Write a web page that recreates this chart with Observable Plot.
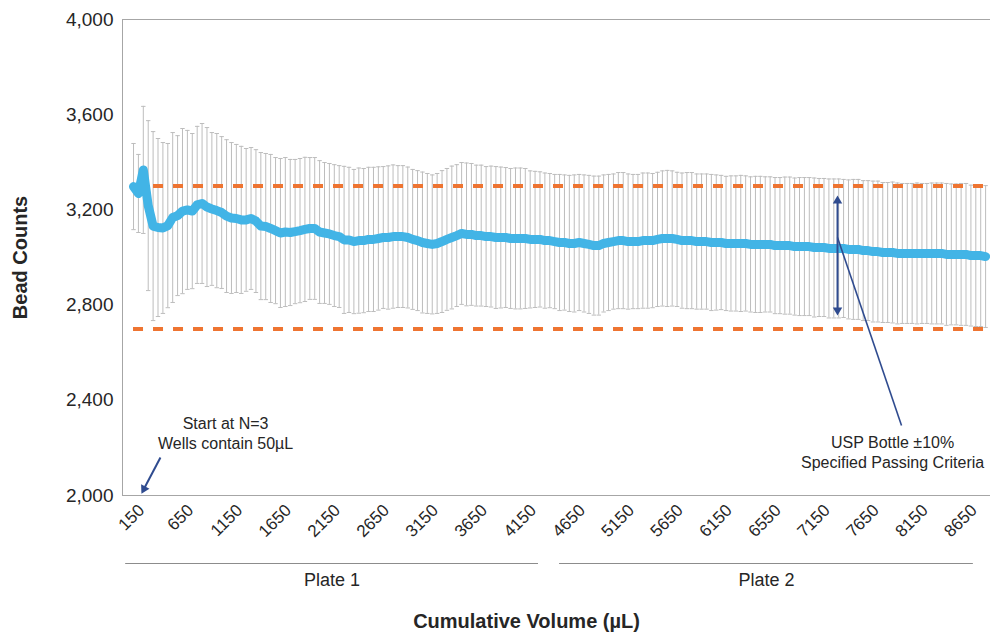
<!DOCTYPE html>
<html><head><meta charset="utf-8">
<script src="https://cdn.jsdelivr.net/npm/d3@7"></script>
<script src="https://cdn.jsdelivr.net/npm/@observablehq/plot@0.6"></script>
<style>
html,body{margin:0;padding:0;background:#fff;}
#chart{width:990px;height:633px;overflow:hidden;}
</style></head><body><div id="chart"></div>
<script>
// Cumulative volume tick labels (every 10th well)
const volumeLabels = ["150","650","1150","1650","2150","2650","3150","3650","4150","4650","5150","5650","6150","6550","7150","7650","8150","8650"];

// Mean bead counts per well
const meanCounts = [
  3298,3269,3368,3218,3132,3126,3124,3134,3168,3176,
  3195,3200,3195,3221,3227,3212,3204,3197,3189,3174,
  3166,3164,3158,3158,3164,3153,3132,3130,3122,3113,
  3103,3107,3105,3109,3113,3118,3122,3122,3107,3103,
  3099,3092,3088,3074,3074,3067,3071,3071,3076,3076,
  3080,3084,3084,3088,3088,3088,3084,3076,3071,3063,
  3059,3055,3059,3067,3076,3084,3092,3101,3097,3097,
  3092,3092,3088,3088,3084,3084,3084,3080,3080,3080,
  3080,3076,3076,3076,3071,3071,3067,3063,3063,3059,
  3059,3063,3059,3055,3050,3050,3059,3063,3067,3071,
  3071,3067,3067,3067,3071,3071,3071,3076,3080,3080,
  3080,3076,3071,3071,3071,3067,3067,3067,3063,3063,
  3063,3059,3059,3059,3059,3059,3055,3055,3055,3055,
  3055,3050,3050,3050,3050,3046,3046,3046,3046,3042,
  3042,3042,3038,3038,3038,3038,3034,3034,3034,3029,
  3029,3025,3025,3021,3021,3021,3017,3017,3017,3017,
  3017,3017,3017,3017,3017,3017,3013,3013,3013,3013,
  3013,3008,3008,3008,3004
];

// Standard deviation (error bar half-length) per well
const sdCounts = [
  181,164,267,357,397,374,359,345,357,336,
  347,334,326,330,336,334,321,324,319,321,
  317,311,309,300,298,300,309,307,311,307,
  313,313,307,303,303,303,298,298,300,296,
  296,298,298,309,305,303,305,303,303,303,
  301,298,301,301,298,298,296,294,294,296,
  294,292,294,298,298,300,298,298,300,298,
  296,296,294,296,298,296,294,294,296,296,
  294,288,286,284,284,282,282,286,284,286,
  288,286,288,290,292,292,288,286,284,286,
  286,284,282,282,284,284,282,282,284,286,
  284,282,284,286,286,284,284,284,286,284,
  282,282,284,284,286,284,284,286,286,284,
  284,286,286,288,288,288,290,290,290,292,
  290,290,292,292,292,290,292,294,294,294,
  294,296,296,294,294,296,296,294,294,294,
  296,294,294,296,296,296,298,296,296,298,
  298,296,298,298,298
];

const passLimits = [3300, 2700];          // USP bottle ±10%
const yTicks = [2000, 2400, 2800, 3200, 3600, 4000];
const plates = [
  {name: "Plate 1", from: -1.6, to: 82.7},
  {name: "Plate 2", from: 87.0, to: 171.5}
];
const notes = [
  {text: "Start at N=3\nWells contain 50µL", i: 18.8, v: 2263},
  {text: "USP Bottle ±10%\nSpecified Passing Criteria", i: 155.0, v: 2183}
];

const rows = meanCounts.map((m, i) => ({i, mean: m, lo: m - sdCounts[i], hi: m + sdCounts[i]}));
const tickIdx = volumeLabels.map((_, k) => k * 10);
const lastIdx = rows.length - 1;

const font = "'Liberation Sans', Arial, Helvetica, sans-serif";
const navy = "#2F4B8F";

const chart = Plot.plot({
  width: 990, height: 633,
  marginLeft: 122, marginRight: 0, marginTop: 19, marginBottom: 138,
  style: {fontFamily: font, color: "#262626", background: "#fff", overflow: "visible"},
  x: {type: "linear", domain: [-2.25, 175.0], axis: null},
  y: {domain: [2000, 4000], axis: null},
  marks: [
    // frame (top, bottom, left)
    Plot.ruleY([4000, 2000], {stroke: "#A6A6A6", strokeWidth: 1}),
    Plot.ruleX([-2.25], {stroke: "#A6A6A6", strokeWidth: 1}),
    // error bars
    Plot.ruleX(rows, {x: "i", y1: "lo", y2: "hi", stroke: "#BDBDBD", strokeWidth: 1}),
    Plot.link(rows, {x1: d => d.i - 0.45, x2: d => d.i + 0.45, y1: "hi", y2: "hi", stroke: "#BDBDBD", strokeWidth: 1}),
    Plot.link(rows, {x1: d => d.i - 0.45, x2: d => d.i + 0.45, y1: "lo", y2: "lo", stroke: "#BDBDBD", strokeWidth: 1}),
    // passing limits
    Plot.ruleY(passLimits, {x1: 0, x2: lastIdx, stroke: "#EE7431", strokeWidth: 4, strokeDasharray: "10,10"}),
    // mean line
    Plot.line(rows, {x: "i", y: "mean", stroke: "#42B4E6", strokeWidth: 9, strokeLinejoin: "round", strokeLinecap: "round"}),
    // axes
    Plot.axisY(yTicks, {tickFormat: d3.format(","), tickSize: 0, tickPadding: 9, fontSize: 19, label: null, fill: "#262626"}),
    Plot.axisX(tickIdx, {tickFormat: i => volumeLabels[i / 10], tickRotate: -45, tickSize: 0, tickPadding: 12, dx: 8, fontSize: 17, label: null, fill: "#262626"}),
    Plot.text(["Bead Counts"], {frameAnchor: "left", dx: -102, rotate: -90, textAnchor: "middle", lineAnchor: "middle", fontWeight: "bold", fontSize: 20, fill: "#262626"}),
    Plot.text(["Cumulative Volume (µL)"], {frameAnchor: "bottom", dx: -30, dy: 126, textAnchor: "middle", lineAnchor: "middle", fontWeight: "bold", fontSize: 20, fill: "#262626"}),
    // plate groups
    Plot.ruleY(plates, {x1: "from", x2: "to", y: () => 2000, dy: 68, stroke: "#8C8C8C", strokeWidth: 1}),
    Plot.text(plates, {x: d => (d.from + d.to) / 2, y: () => 2000, dy: 85, text: "name", fontSize: 18, fill: "#262626"}),
    // annotations
    Plot.text(notes, {x: "i", y: "v", text: "text", fontSize: 16, lineHeight: 1.2, fill: "#262626"}),
    Plot.link([{x1: 5.5, y1: 2160, x2: 2.14, y2: 2028}], {x1: "x1", y1: "y1", x2: "x2", y2: "y2", stroke: navy, strokeWidth: 2}),
    Plot.dot([{x: 2.14, y: 2028}], {x: "x", y: "y", symbol: "triangle", r: 3.5, fill: navy, stroke: "none", rotate: 208}),
    Plot.link([{x1: 143.76, y1: 3240, x2: 143.76, y2: 2778}], {x1: "x1", y1: "y1", x2: "x2", y2: "y2", stroke: navy, strokeWidth: 2}),
    Plot.dot([{x: 143.76, y: 3238, a: 0}, {x: 143.76, y: 2779, a: 180}], {x: "x", y: "y", symbol: "triangle", r: 3.5, fill: navy, stroke: "none", rotate: "a"}),
    Plot.link([{x1: 143.76, y1: 3084, x2: 156.83, y2: 2294}], {x1: "x1", y1: "y1", x2: "x2", y2: "y2", stroke: navy, strokeWidth: 1.6})
  ]
});
document.getElementById("chart").appendChild(chart);
</script>
</body></html>
